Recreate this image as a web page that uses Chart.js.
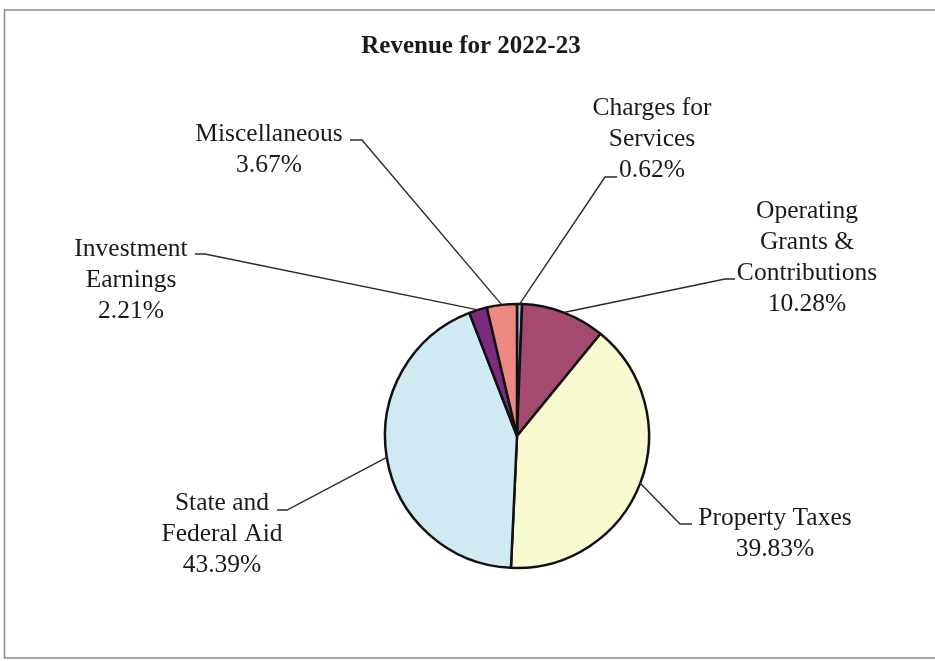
<!DOCTYPE html>
<html>
<head>
<meta charset="utf-8">
<script src="https://cdn.jsdelivr.net/npm/chart.js@4"></script>
<style>
  html, body { margin: 0; padding: 0; background: #fff; }
  #wrap { position: relative; width: 935px; height: 661px; }
</style>
</head>
<body>
<div id="wrap"><canvas id="rev-chart" width="935" height="661"></canvas></div>
<script>
// Revenue for 2022-23 — slices clockwise from 12 o'clock
const categories = ['Charges for Services', 'Operating Grants & Contributions', 'Property Taxes',
    'State and Federal Aid', 'Investment Earnings', 'Miscellaneous'];
const shares = [0.62, 10.28, 39.83, 43.39, 2.21, 3.67];
const labelLines = [
    ['Charges for', 'Services', '0.62%'],
    ['Operating', 'Grants &', 'Contributions', '10.28%'],
    ['Property Taxes', '39.83%'],
    ['State and', 'Federal Aid', '43.39%'],
    ['Investment', 'Earnings', '2.21%'],
    ['Miscellaneous', '3.67%'],
];
const sliceColors = ['#a9bde0', '#a44a6e', '#fafad0', '#cfeaf3', '#7b2c80', '#ec8a82'];

// label placement: text block centre x, first line y, and the elbow where the leader starts
const labelPos = [
    { x: 652, y: 108, elbow: [[617, 177], [605, 177]] },
    { x: 807, y: 211, elbow: [[735, 279], [725, 279]] },
    { x: 775, y: 518, elbow: [[692, 524], [680, 524]] },
    { x: 222, y: 503, elbow: [[277, 510], [287, 510]] },
    { x: 131, y: 249, elbow: [[195, 254], [205, 254]] },
    { x: 269, y: 134, elbow: [[350, 140], [362, 140]] },
];

const FONT = '"Liberation Serif", "Times New Roman", serif';

const labelPlugin = {
    id: 'leaderLabels',
    afterDraw(chart) {
        const ctx = chart.ctx;
        ctx.save();
        // frame
        ctx.strokeStyle = '#8a8a8a';
        ctx.lineWidth = 1.5;
        ctx.beginPath();
        ctx.moveTo(935, 10); ctx.lineTo(4.5, 10); ctx.lineTo(4.5, 658); ctx.lineTo(935, 658);
        ctx.stroke();

        // title
        ctx.fillStyle = '#1a1a1a';
        ctx.textAlign = 'center';
        ctx.textBaseline = 'middle';
        ctx.font = 'bold 25px ' + FONT;
        ctx.fillText('Revenue for 2022-23', 471, 47);

        const meta = chart.getDatasetMeta(0);
        ctx.font = '25.5px ' + FONT;
        meta.data.forEach((arc, i) => {
            const mid = (arc.startAngle + arc.endAngle) / 2;
            const px = arc.x + Math.cos(mid) * arc.outerRadius;
            const py = arc.y + Math.sin(mid) * arc.outerRadius;
            const p = labelPos[i];
            ctx.strokeStyle = '#2a2a2a';
            ctx.lineWidth = 1.4;
            ctx.beginPath();
            ctx.moveTo(p.elbow[0][0], p.elbow[0][1]);
            ctx.lineTo(p.elbow[1][0], p.elbow[1][1]);
            ctx.lineTo(px, py);
            ctx.stroke();
            labelLines[i].forEach((t, k) => {
                ctx.fillText(t, p.x, p.y + k * 31);
            });
        });
        ctx.restore();
    }
};

new Chart(document.getElementById('rev-chart'), {
    type: 'pie',
    data: {
        labels: categories,
        datasets: [{
            data: shares,
            backgroundColor: sliceColors,
            borderColor: '#111',
            borderWidth: 2.5,
        }],
    },
    options: {
        responsive: false,
        animation: false,
        radius: 132,
        layout: { padding: { left: 317, right: 218, top: 236, bottom: 25 } },
        plugins: { legend: { display: false }, tooltip: { enabled: false } },
    },
    plugins: [labelPlugin],
});
</script>
</body>
</html>
